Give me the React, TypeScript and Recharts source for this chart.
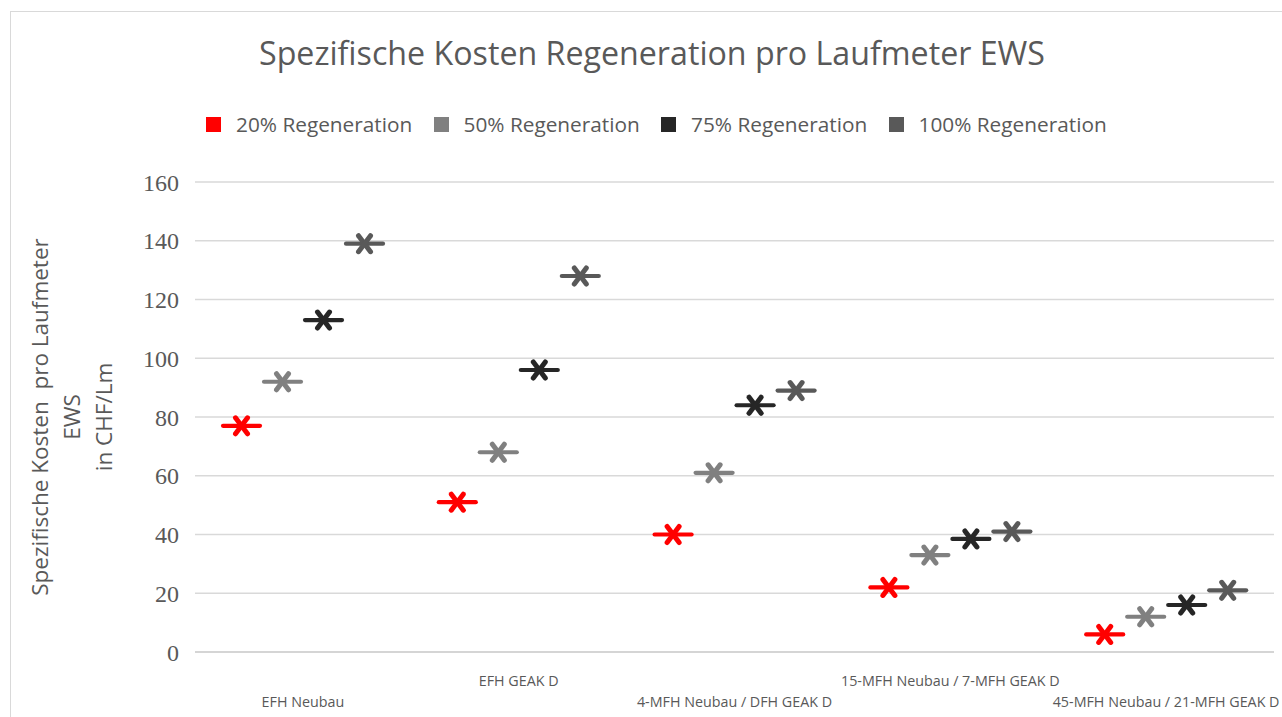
import { ComposedChart, Bar, XAxis, YAxis, CartesianGrid } from "recharts";

const categories = [
  "EFH Neubau",
  "EFH GEAK D",
  "4-MFH Neubau / DFH GEAK D",
  "15-MFH Neubau / 7-MFH GEAK D",
  "45-MFH Neubau / 21-MFH GEAK D",
];
const regen20 = [77, 51, 40, 22, 6];
const regen50 = [92, 68, 61, 33, 12];
const regen75 = [113, 96, 84, 38.5, 16];
const regen100 = [139, 128, 89, 41, 21];
const yTicks = [0, 20, 40, 60, 80, 100, 120, 140, 160];

const seriesList = [
  { key: "r20", name: "20% Regeneration", color: "#ff0000" },
  { key: "r50", name: "50% Regeneration", color: "#808080" },
  { key: "r75", name: "75% Regeneration", color: "#262626" },
  { key: "r100", name: "100% Regeneration", color: "#595959" },
];

const data = categories.map((c, i) => ({
  name: c,
  r20: regen20[i],
  r50: regen50[i],
  r75: regen75[i],
  r100: regen100[i],
}));

const textColor = "#595959";
const sans = "'Open Sans', sans-serif";

// star marker with a long horizontal dash, drawn at the top of each (invisible) bar
function StarMarker(props: any) {
  const { x, y, width, fill } = props;
  const cx = x + width / 2;
  const cy = y;
  return (
    <g stroke={fill} strokeLinecap="round" fill="none">
      <line x1={x + 2} y1={cy} x2={x + width - 2} y2={cy} strokeWidth={4.2} />
      <line x1={cx - 6} y1={cy - 8} x2={cx + 6} y2={cy + 8} strokeWidth={5} />
      <line x1={cx + 6} y1={cy - 8} x2={cx - 6} y2={cy + 8} strokeWidth={5} />
    </g>
  );
}

function CategoryTick(props: any) {
  const { x, y, payload } = props;
  const idx = categories.indexOf(payload.value);
  const dy = idx % 2 === 0 ? 47 : 26;
  return (
    <text
      x={x}
      y={y + dy}
      textAnchor="middle"
      fill={textColor}
      fontSize={14.3}
      fontFamily={sans}
    >
      {payload.value}
    </text>
  );
}

export default function App() {
  return (
    <div
      style={{
        position: "absolute",
        left: 0,
        top: 0,
        width: 1282,
        height: 717,
        background: "#fff",
        overflow: "hidden",
      }}
    >
      <div
        style={{
          position: "absolute",
          left: 10,
          top: 11,
          width: 1300,
          height: 720,
          border: "1px solid #d9d9d9",
        }}
      />
      <div
        style={{
          position: "absolute",
          left: 0,
          top: 31,
          width: 1304,
          textAlign: "center",
          fontFamily: sans,
          fontSize: 32.2,
          color: textColor,
          lineHeight: "44px",
        }}
      >
        Spezifische Kosten Regeneration pro Laufmeter EWS
      </div>
      {seriesList.map((s, i) => (
        <div
          key={s.key}
          style={{
            position: "absolute",
            left: 206 + i * 227.5,
            top: 109,
            display: "flex",
            alignItems: "center",
            fontFamily: sans,
            fontSize: 20.8,
            color: textColor,
            lineHeight: "30px",
            whiteSpace: "nowrap",
          }}
        >
          <span
            style={{
              display: "inline-block",
              width: 15,
              height: 15,
              background: s.color,
              marginRight: 15,
            }}
          />
          <span>{s.name}</span>
        </div>
      ))}
      <div
        style={{
          position: "absolute",
          left: 74,
          top: 417,
          width: 0,
          height: 0,
        }}
      >
        <div
          style={{
            position: "absolute",
            left: -250,
            top: -50,
            width: 500,
            height: 100,
            transform: "rotate(-90deg)",
            textAlign: "center",
            fontFamily: sans,
            fontSize: 22.5,
            lineHeight: "32px",
            color: textColor,
            whiteSpace: "pre",
          }}
        >
          {"Spezifische Kosten  pro Laufmeter\nEWS\nin CHF/Lm"}
        </div>
      </div>
      <div style={{ position: "absolute", left: 0, top: 0 }}>
        <ComposedChart
          width={1282}
          height={717}
          data={data}
          margin={{ top: 182, right: 8, bottom: 0, left: 0 }}
          barCategoryGap={26}
          barGap={0}
        >
          <CartesianGrid vertical={false} stroke="#d9d9d9" strokeWidth={1.5} />
          <XAxis
            dataKey="name"
            interval={0}
            tickLine={false}
            axisLine={{ stroke: "#d0d0d0", strokeWidth: 1.5 }}
            tick={<CategoryTick />}
            height={65}
          />
          <YAxis
            width={195}
            domain={[0, 160]}
            ticks={yTicks}
            axisLine={false}
            tickLine={false}
            tickSize={0}
            tickMargin={16}
            tick={{ fontSize: 24, fill: textColor, fontFamily: "'Liberation Serif', serif" }}
          />
          {seriesList.map((s) => (
            <Bar
              key={s.key}
              dataKey={s.key}
              name={s.name}
              fill={s.color}
              isAnimationActive={false}
              shape={<StarMarker />}
            />
          ))}
        </ComposedChart>
      </div>
    </div>
  );
}
